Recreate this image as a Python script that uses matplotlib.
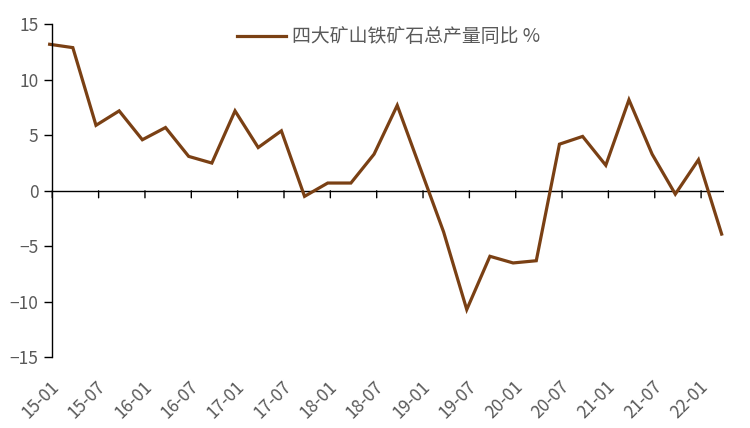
import matplotlib
matplotlib.use("Agg")
import matplotlib.pyplot as plt
import matplotlib.transforms as mtransforms
import numpy as np

plt.rcParams['font.family'] = ['Noto Sans CJK SC', 'DejaVu Sans']

# quarterly data 2015Q1 .. 2022Q2
months_from_start = list(range(0, 90, 3))
values = [13.2, 12.9, 5.9, 7.2, 4.6, 5.7, 3.1, 2.5, 7.2, 3.9,
          5.4, -0.5, 0.7, 0.7, 3.3, 7.7, 2.0, -3.7, -10.7, -5.9,
          -6.5, -6.3, 4.2, 4.9, 2.3, 8.2, 3.3, -0.3, 2.8, -3.9]
tick_labels = ['15-01', '15-07', '16-01', '16-07', '17-01', '17-07', '18-01', '18-07',
               '19-01', '19-07', '20-01', '20-07', '21-01', '21-07', '22-01']
series_name = '四大矿山铁矿石总产量同比 %'

fig = plt.figure(figsize=(7.5, 4.28), dpi=100)
ax = fig.add_axes([0.0697, 0.1652, 0.8960, 0.7780])

x = np.array(months_from_start) - 0.34
ax.plot(x, values, color='#7A4014', lw=2.3, label=series_name, clip_on=False,
        solid_joinstyle='miter')

ax.set_ylim(-15, 15)
ax.set_yticks([-15, -10, -5, 0, 5, 10, 15])
ax.set_xlim(0, 87)
tick_pos = np.arange(0, 6 * len(tick_labels), 6)
ax.set_xticks([])

for s in ['top', 'right', 'bottom']:
    ax.spines[s].set_visible(False)
ax.spines['left'].set_color('black')
ax.spines['left'].set_linewidth(1.0)

ax.tick_params(axis='y', direction='out', length=6, width=1, colors='black',
               labelcolor='#595959', labelsize=12.5, pad=4)

# zero axis line with downward tick marks
ax.axhline(0, color='black', lw=1.0, zorder=1)
for p in tick_pos:
    ax.annotate('', xy=(p, 0), xytext=(0, -7), textcoords='offset pixels',
                arrowprops=dict(arrowstyle='-', color='black', lw=1.0,
                                shrinkA=0, shrinkB=0), annotation_clip=False)

# x labels below the plot area
lab_trans = mtransforms.blended_transform_factory(ax.transData, ax.transAxes) + \
    mtransforms.ScaledTranslation(3.0 / 72, -19 / 72, fig.dpi_scale_trans)
for p, t in zip(tick_pos, tick_labels):
    ax.text(p, 0, t, transform=lab_trans, rotation=45, ha='right', va='center',
            rotation_mode='anchor', fontsize=12.5, color='#595959', clip_on=False)

leg = ax.legend(loc='upper left', bbox_to_anchor=(0.25, 1.045), frameon=False,
                fontsize=13.6, handlelength=2.6, handletextpad=0.3)
for t in leg.get_texts():
    t.set_color('#595959')

fig.savefig('out.png', dpi=100)
